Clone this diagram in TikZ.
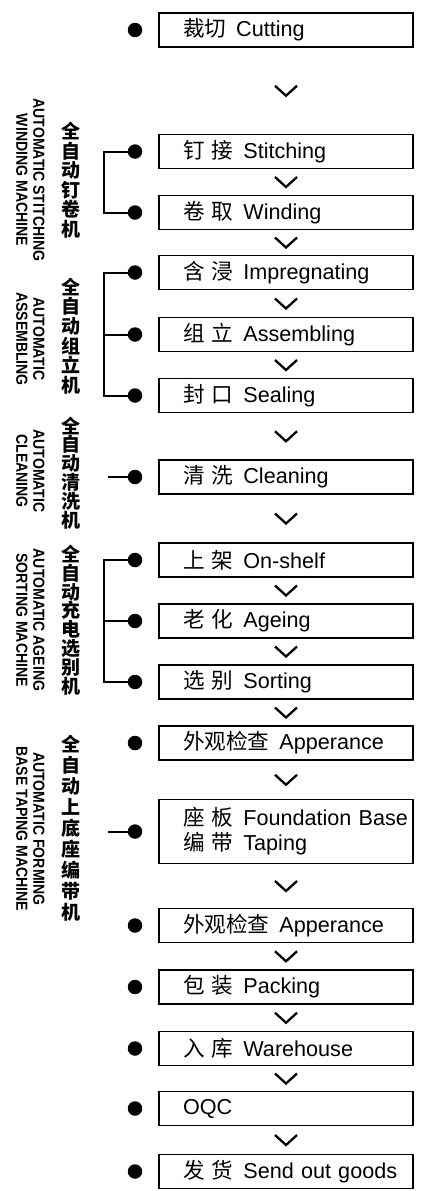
\documentclass[tikz,border=0pt]{standalone}
\usepackage{fontspec}
\setmainfont{Liberation Sans}
\newfontfamily\cjk{Noto Sans CJK SC}
\newfontfamily\narrow[FakeStretch=0.88]{Liberation Sans}
\usetikzlibrary{positioning,calc}
\newcommand{\stp}[2]{\mbox{{\cjk #1}\hspace{10pt}#2}}

\begin{document}
\begin{tikzpicture}[x=1pt,y=-1pt,
    stepbox/.style={draw,line width=1.3pt,text width=206pt,inner xsep=24pt,
      inner ysep=0pt,minimum height=34pt,align=left,
      font=\fontsize{21.6}{25}\selectfont},
    dot/.style={circle,fill,inner sep=0pt,minimum size=14.5pt,node distance=151pt},
    brk/.style={line width=2pt},
    chev/.style={line width=2.3pt,to path={
      ($(\tikztostart.south)!.5!(\tikztotarget.north)$) ++(-11,-5) -- ++(11,10) -- ++(11,-10)}},
    cnlab/.style={align=center,inner sep=0pt,
      font=\cjk\bfseries\fontsize{19}{#1}\selectfont},
    cnlab/.default=19.5,
    enlab/.style={rotate=-90,align=center,inner sep=0pt,
      font=\narrow\bfseries\fontsize{16}{17}\selectfont},
    node distance=61pt
    ]
    \useasboundingbox (0,0) rectangle (422,1191);

    \node (cut) [stepbox] at (286,30) {\stp{裁切}{Cutting}};
    \node (sti) [stepbox,below of=cut,node distance=121.5pt] {\stp{钉 接}{Stitching}};
    \node (win) [stepbox,below of=sti] {\stp{卷 取}{Winding}};
    \node (imp) [stepbox,below of=win,node distance=60pt] {\stp{含 浸}{Impregnating}};
    \node (ass) [stepbox,below of=imp,node distance=62pt] {\stp{组 立}{Assembling}};
    \node (sea) [stepbox,below of=ass] {\stp{封 口}{Sealing}};
    \node (cln) [stepbox,below of=sea,node distance=81.5pt] {\stp{清 洗}{Cleaning}};
    \node (shf) [stepbox,below of=cln,node distance=83pt] {\stp{上 架}{On-shelf}};
    \node (age) [stepbox,below of=shf] {\stp{老 化}{Ageing}};
    \node (srt) [stepbox,below of=age] {\stp{选 别}{Sorting}};
    \node (app) [stepbox,below of=srt] {\stp{外观检查}{Apperance}};
    \node (fnd) [stepbox,below of=app,node distance=88.5pt,minimum height=64pt]
      {\stp{座 板}{Foundation Base}\\\stp{编 带}{Taping}};
    \node (apq) [stepbox,below of=fnd,node distance=94pt] {\stp{外观检查}{Apperance}};
    \node (pck) [stepbox,below of=apq,node distance=61.5pt] {\stp{包 装}{Packing}};
    \node (whs) [stepbox,below of=pck,node distance=61.5pt] {\stp{入 库}{Warehouse}};
    \node (oqc) [stepbox,below of=whs,node distance=60pt] {OQC};
    \node (snd) [stepbox,below of=oqc,node distance=63pt] {\stp{发 货}{Send out goods}};

    % the dots
    \node (dcut) [dot,left of=cut] {};
    \node (dsti) [dot,left of=sti] {};
    \node (dwin) [dot,left of=win] {};
    \node (dimp) [dot,left of=imp] {};
    \node (dass) [dot,left of=ass] {};
    \node (dsea) [dot,left of=sea] {};
    \node (dcln) [dot,left of=cln] {};
    \node (dshf) [dot,left of=shf] {};
    \node (dage) [dot,left of=age] {};
    \node (dsrt) [dot,left of=srt] {};
    \node (dapp) [dot,left of=app] {};
    \node (dfnd) [dot,left of=fnd] {};
    \node (dapq) [dot,left of=apq] {};
    \node (dpck) [dot,left of=pck] {};
    \node (dwhs) [dot,left of=whs] {};
    \node (doqc) [dot,left of=oqc] {};
    \node (dsnd) [dot,left of=snd] {};

    % the flow marks
    \draw[chev] (cut) to (sti);
    \draw[chev] (sti) to (win);
    \draw[chev] (win) to (imp);
    \draw[chev] (imp) to (ass);
    \draw[chev] (ass) to (sea);
    \draw[chev] (sea) to (cln);
    \draw[chev] (cln) to (shf);
    \draw[chev] (shf) to (age);
    \draw[chev] (age) to (srt);
    \draw[chev] (srt) to (app);
    \draw[chev] (app) to (fnd);
    \draw[chev] (fnd) to (apq);
    \draw[chev] (apq) to (pck);
    \draw[chev] (pck) to (whs);
    \draw[chev] (whs) to (oqc);
    \draw[chev] (oqc) to (snd);

    % the machine brackets
    \draw[brk] (dsti) -- ++(-31,0) |- (dwin);
    \draw[brk] (dimp) -- ++(-31,0) |- (dsea);
    \draw[brk] (dass) -- ++(-31,0);
    \draw[brk] (dcln) -- ++(-27,0);
    \draw[brk] (dshf) -- ++(-31,0) |- (dsrt);
    \draw[brk] (dage) -- ++(-31,0);
    \draw[brk] (dfnd) -- ++(-27,0);

    % the machine names
    \node (cn1) [cnlab] at (71,180) {全\\自\\动\\钉\\卷\\机};
    \node (en1) [enlab] at (30.5,180) {AUTOMATIC STITCHING\\WINDING MACHINE};
    \node (cn2) [cnlab=19.7] at (71,336) {全\\自\\动\\组\\立\\机};
    \node (en2) [enlab] at (30.5,339) {AUTOMATIC\\ASSEMBLING};
    \node (cn3) [cnlab=17.5] at (71,473) {全\\自\\动\\清\\洗\\机};
    \node (en3) [enlab] at (30.5,471) {AUTOMATIC\\CLEANING};
    \node (cn4) [cnlab=18.8] at (71,620) {全\\自\\动\\充\\电\\选\\别\\机};
    \node (en4) [enlab] at (30.5,620) {AUTOMATIC AGEING\\SORTING MACHINE};
    \node (cn5) [cnlab=21] at (71,828) {全\\自\\动\\上\\底\\座\\编\\带\\机};
    \node (en5) [enlab] at (30.5,829) {AUTOMATIC FORMING\\BASE TAPING MACHINE};
\end{tikzpicture}
\end{document}
